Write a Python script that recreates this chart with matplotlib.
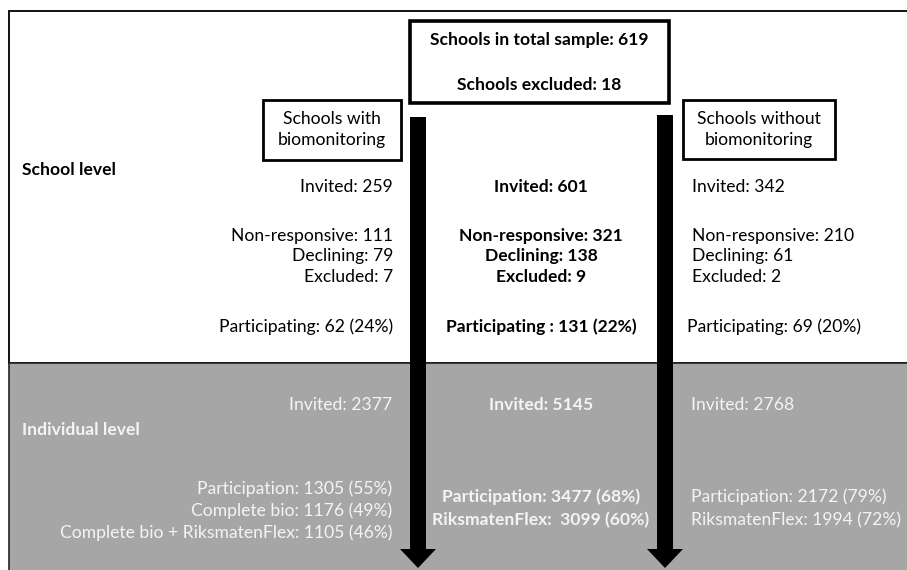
import matplotlib
matplotlib.use("Agg")
import matplotlib.pyplot as plt
from matplotlib.patches import Rectangle, FancyArrow

plt.rcParams['font.family'] = ['Lato', 'DejaVu Sans']

# ---- data ----
top_box_lines = ["Schools in total sample: 619", "Schools excluded: 18"]
group_labels = ["Schools with\nbiomonitoring", "Schools without\nbiomonitoring"]
level_labels = ["School level", "Individual level"]

school_with = ["Invited: 259", "Non-responsive: 111", "Declining: 79", "Excluded: 7",
               "Participating: 62 (24%)"]
school_total = ["Invited: 601", "Non-responsive: 321", "Declining: 138", "Excluded: 9",
                "Participating : 131 (22%)"]
school_without = ["Invited: 342", "Non-responsive: 210", "Declining: 61", "Excluded: 2",
                  "Participating: 69 (20%)"]

indiv_with = ["Invited: 2377", "Participation: 1305 (55%)", "Complete bio: 1176 (49%)",
              "Complete bio + RiksmatenFlex: 1105 (46%)"]
indiv_total = ["Invited: 5145", "Participation: 3477 (68%)", "RiksmatenFlex:  3099 (60%)"]
indiv_without = ["Invited: 2768", "Participation: 2172 (79%)", "RiksmatenFlex: 1994 (72%)"]

# ---- layout ----
W, H = 907, 570
fig = plt.figure(figsize=(W / 100, H / 100), dpi=100)
ax = fig.add_axes([0, 0, 1, 1])
ax.set_xlim(0, W)
ax.set_ylim(H, 0)
ax.axis('off')

GRAY = '#a6a6a6'
TXT_W = '#f4f4f4'
FS = 12.6

# white and gray panels
ax.add_patch(Rectangle((9, 11), W, 352, facecolor='white', edgecolor='#111111', lw=1.4, zorder=1))
ax.add_patch(Rectangle((9, 363), W, H, facecolor=GRAY, edgecolor='#222222', lw=1.2, zorder=1))

# top box
ax.add_patch(Rectangle((410, 21), 259, 82, facecolor='white', edgecolor='black', lw=2.6, zorder=3))
ax.text(539.5, 40, top_box_lines[0], ha='center', va='center', fontsize=FS, fontweight='bold', zorder=4)
ax.text(539.5, 85, top_box_lines[1], ha='center', va='center', fontsize=FS, fontweight='bold', zorder=4)

# group boxes
ax.add_patch(Rectangle((263, 100), 138, 60, facecolor='white', edgecolor='black', lw=2.0, zorder=3))
ax.text(332, 129.5, group_labels[0], ha='center', va='center', fontsize=FS, linespacing=1.45, zorder=4)
ax.add_patch(Rectangle((683, 100), 152, 59, facecolor='white', edgecolor='black', lw=2.0, zorder=3))
ax.text(759, 129.5, group_labels[1], ha='center', va='center', fontsize=FS, linespacing=1.45, zorder=4)

# arrows
for xc, ytop in [(418, 117), (665, 115)]:
    ax.add_patch(FancyArrow(xc, ytop, 0, 568 - ytop, width=16, head_width=36, head_length=19,
                            length_includes_head=True, color='black', lw=0, zorder=5))

# level labels
ax.text(22, 170, level_labels[0], ha='left', va='center', fontsize=FS, fontweight='bold')
ax.text(22, 430, level_labels[1], ha='left', va='center', fontsize=FS, fontweight='bold', color=TXT_W)

# school level columns
school_y = [187, 236, 256, 277, 327]
for s, y in zip(school_with, school_y):
    ax.text(393, y, s, ha='right', va='center', fontsize=FS)
for s, y in zip(school_total, school_y):
    ax.text(541, y, s, ha='center', va='center', fontsize=FS, fontweight='bold')
for i, (s, y) in enumerate(zip(school_without, school_y)):
    ax.text(687 if i == 4 else 692, y, s, ha='left', va='center', fontsize=FS)

# individual level columns
y_with = [405, 489, 511, 533]
for s, y in zip(indiv_with, y_with):
    ax.text(392, y, s, ha='right', va='center', fontsize=FS, color=TXT_W)
y_side = [405, 497, 520]
for s, y in zip(indiv_total, y_side):
    ax.text(541, y, s, ha='center', va='center', fontsize=FS, fontweight='bold', color=TXT_W)
for s, y in zip(indiv_without, y_side):
    ax.text(691, y, s, ha='left', va='center', fontsize=FS, color=TXT_W)

fig.savefig('out.png', dpi=100)
